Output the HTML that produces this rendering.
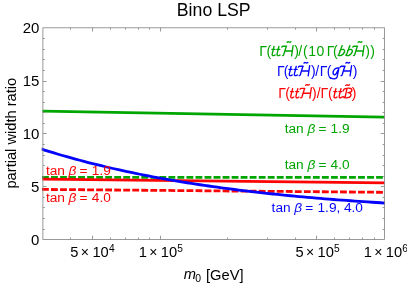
<!DOCTYPE html>
<html><head><meta charset="utf-8"><style>
html,body{margin:0;padding:0;background:#fff;}
svg{display:block}
text{font-family:"Liberation Sans",sans-serif;}
</style></head><body>
<svg width="407" height="283" viewBox="0 0 407 283" style="will-change:transform">
<rect width="407" height="283" fill="#fff"/>
<defs><clipPath id="c"><rect x="41.7" y="27.8" width="343.8" height="211.6"/></clipPath></defs>
<g clip-path="url(#c)" fill="none" stroke-width="2.8">
<path d="M42.5 111.2 L384.5 117.2" stroke="#00a600"/>
<path d="M42 177.4 L384.5 177.4" stroke="#00a600" stroke-dasharray="6.85 2.18"/>
<path d="M42.5 179.2 L384.5 182.9" stroke="#fd0404"/>
<path d="M42 189.4 L384.5 192.3" stroke="#fd0404" stroke-dasharray="6.85 2.18"/>
<path d="M41.0 148.93 L45.3 150.30 L49.6 151.64 L53.9 152.95 L58.2 154.23 L62.5 155.49 L66.8 156.72 L71.1 157.93 L75.4 159.11 L79.7 160.27 L84.0 161.41 L88.3 162.52 L92.6 163.61 L96.9 164.68 L101.2 165.73 L105.5 166.76 L109.8 167.76 L114.1 168.75 L118.4 169.71 L122.7 170.66 L127.0 171.59 L131.3 172.49 L135.6 173.38 L139.9 174.25 L144.2 175.11 L148.5 175.94 L152.8 176.76 L157.1 177.57 L161.4 178.35 L165.7 179.12 L170.0 179.88 L174.3 180.62 L178.6 181.34 L182.9 182.05 L187.2 182.75 L191.5 183.43 L195.8 184.09 L200.1 184.75 L204.4 185.39 L208.7 186.01 L213.0 186.63 L217.3 187.23 L221.6 187.82 L225.9 188.39 L230.2 188.96 L234.5 189.51 L238.8 190.05 L243.1 190.58 L247.4 191.10 L251.7 191.61 L256.0 192.11 L260.3 192.60 L264.6 193.07 L268.9 193.54 L273.2 194.00 L277.5 194.45 L281.8 194.89 L286.1 195.32 L290.4 195.74 L294.7 196.15 L299.0 196.55 L303.3 196.95 L307.6 197.33 L311.9 197.71 L316.2 198.08 L320.5 198.44 L324.8 198.80 L329.1 199.14 L333.4 199.48 L337.7 199.82 L342.0 200.14 L346.3 200.46 L350.6 200.77 L354.9 201.08 L359.2 201.38 L363.5 201.67 L367.8 201.95 L372.1 202.23 L376.4 202.51 L380.7 202.77 L385.0 203.03" stroke="#0404fc"/>
</g>
<path d="M70.50 239.4v-1.9M70.50 27.8v1.9M92.50 239.4v-3.7M92.50 27.8v3.7M110.50 239.4v-1.9M110.50 27.8v1.9M125.50 239.4v-1.9M125.50 27.8v1.9M138.50 239.4v-1.9M138.50 27.8v1.9M149.50 239.4v-1.9M149.50 27.8v1.9M160.50 239.4v-3.7M160.50 27.8v3.7M227.50 239.4v-1.9M227.50 27.8v1.9M267.50 239.4v-1.9M267.50 27.8v1.9M295.50 239.4v-1.9M295.50 27.8v1.9M316.50 239.4v-3.7M316.50 27.8v3.7M334.50 239.4v-1.9M334.50 27.8v1.9M349.50 239.4v-1.9M349.50 27.8v1.9M362.50 239.4v-1.9M362.50 27.8v1.9M374.50 239.4v-1.9M374.50 27.8v1.9M42.9 229.50h1.9M384.45 229.50h-1.9M42.9 218.50h1.9M384.45 218.50h-1.9M42.9 207.50h1.9M384.45 207.50h-1.9M42.9 197.50h1.9M384.45 197.50h-1.9M42.9 186.50h3.7M384.45 186.50h-3.7M42.9 176.50h1.9M384.45 176.50h-1.9M42.9 165.50h1.9M384.45 165.50h-1.9M42.9 155.50h1.9M384.45 155.50h-1.9M42.9 144.50h1.9M384.45 144.50h-1.9M42.9 133.50h3.7M384.45 133.50h-3.7M42.9 123.50h1.9M384.45 123.50h-1.9M42.9 112.50h1.9M384.45 112.50h-1.9M42.9 102.50h1.9M384.45 102.50h-1.9M42.9 91.50h1.9M384.45 91.50h-1.9M42.9 81.50h3.7M384.45 81.50h-3.7M42.9 70.50h1.9M384.45 70.50h-1.9M42.9 59.50h1.9M384.45 59.50h-1.9M42.9 49.50h1.9M384.45 49.50h-1.9M42.9 38.50h1.9M384.45 38.50h-1.9" stroke="#808080" stroke-width="0.8" fill="none"/>
<rect x="42.9" y="27.8" width="341.55" height="211.60" fill="none" stroke="#808080" stroke-width="0.8"/>
<text x="213.7" y="15.6" font-size="17.7" text-anchor="middle" fill="#000">Bino LSP</text>
<g font-size="15" fill="#000" text-anchor="end">
<text x="39.4" y="33.4">20</text>
<text x="39.4" y="86.2">15</text>
<text x="39.4" y="139">10</text>
<text x="39.4" y="191.8">5</text>
<text x="39.4" y="244.6">0</text>
</g>
<g font-size="14.7" fill="#000">
<text x="70.3" y="256.7">5</text><text x="80.8" y="256.9" font-size="14">×</text><text x="92.39999999999999" y="256.7">10</text><text x="108.89999999999999" y="251.79999999999998" font-size="10.2">4</text>
<text x="138.7" y="256.7">1</text><text x="149.2" y="256.9" font-size="14">×</text><text x="160.8" y="256.7">10</text><text x="177.3" y="251.79999999999998" font-size="10.2">5</text>
<text x="295.5" y="256.7">5</text><text x="306.0" y="256.9" font-size="14">×</text><text x="317.6" y="256.7">10</text><text x="334.1" y="251.79999999999998" font-size="10.2">5</text>
<text x="363.7" y="256.7">1</text><text x="374.2" y="256.9" font-size="14">×</text><text x="385.8" y="256.7">10</text><text x="402.3" y="251.79999999999998" font-size="10.2">6</text>
</g>
<g font-size="14.7" fill="#000">
<text x="183.8" y="279.4" font-style="italic">m</text><text x="195.3" y="282" font-size="10.4">0</text><text x="206" y="280.1">[GeV]</text>
</g>
<text transform="translate(15.5 133.2) rotate(-90)" font-size="14.65" text-anchor="middle">partial width ratio</text>
<text x="259.3" y="55.7" font-size="14" fill="#00a600">Γ</text>
<text x="266.5" y="55.7" font-size="14" fill="#00a600">(</text>
<path transform="translate(271.0 55.7)" d="M3.0-9.2L1.2-1.9Q0.8 0.2 2.8-0.1Q3.6-0.3 4.1-0.8M0.9-6.3H3.9" fill="none" stroke="#00a600" stroke-width="1.35" stroke-linecap="round" stroke-linejoin="round"/>
<path transform="translate(275.9 55.7)" d="M3.0-9.2L1.2-1.9Q0.8 0.2 2.8-0.1Q3.6-0.3 4.1-0.8M0.9-6.3H3.9" fill="none" stroke="#00a600" stroke-width="1.35" stroke-linecap="round" stroke-linejoin="round"/>
<path transform="translate(281.6 55.7)" d="M0.2-8.6Q0.3-9.5 1.4-9.5H5M4.7-9.4L2.1-0.9Q1.8 0 0.9-0.1M3.6-4.7H10.4M11.5-10.1L10 0.1M5.5-13.4q1-0.9 1.9-0.3t1.9-0.3" fill="none" stroke="#00a600" stroke-width="1.35" stroke-linecap="round" stroke-linejoin="round"/>
<text x="294.2" y="55.7" font-size="14" fill="#00a600">)</text>
<text x="298.3" y="55.7" font-size="14" fill="#00a600">/</text>
<text x="302.9" y="55.7" font-size="14" fill="#00a600">(</text>
<text x="308.2" y="55.7" font-size="14" fill="#00a600">1</text>
<text x="316.4" y="55.7" font-size="14" fill="#00a600">0</text>
<text x="326.8" y="55.7" font-size="14" fill="#00a600">Γ</text>
<text x="333.0" y="55.7" font-size="14" fill="#00a600">(</text>
<path transform="translate(337.9 55.7)" d="M4.3-10.1L0.6-0.3M2-4.9Q3.8-6.8 5.8-6.2Q7.4-5.4 6.4-3.3Q5.2-0.8 3-0.2Q1.3 0.2 0.2-0.6" fill="none" stroke="#00a600" stroke-width="1.35" stroke-linecap="round" stroke-linejoin="round"/>
<path transform="translate(345.6 55.7)" d="M4.3-10.1L0.6-0.3M2-4.9Q3.8-6.8 5.8-6.2Q7.4-5.4 6.4-3.3Q5.2-0.8 3-0.2Q1.3 0.2 0.2-0.6" fill="none" stroke="#00a600" stroke-width="1.35" stroke-linecap="round" stroke-linejoin="round"/>
<path transform="translate(352.6 55.7)" d="M0.2-8.6Q0.3-9.5 1.4-9.5H5M4.7-9.4L2.1-0.9Q1.8 0 0.9-0.1M3.6-4.7H10.4M11.5-10.1L10 0.1M5.5-13.4q1-0.9 1.9-0.3t1.9-0.3" fill="none" stroke="#00a600" stroke-width="1.35" stroke-linecap="round" stroke-linejoin="round"/>
<text x="365.2" y="55.7" font-size="14" fill="#00a600">)</text>
<text x="370.3" y="55.7" font-size="14" fill="#00a600">)</text>
<text x="276.9" y="75.7" font-size="14" fill="#0404fc">Γ</text>
<text x="283.8" y="75.7" font-size="14" fill="#0404fc">(</text>
<path transform="translate(288.1 75.7)" d="M3.0-9.2L1.2-1.9Q0.8 0.2 2.8-0.1Q3.6-0.3 4.1-0.8M0.9-6.3H3.9" fill="none" stroke="#0404fc" stroke-width="1.35" stroke-linecap="round" stroke-linejoin="round"/>
<path transform="translate(293.2 75.7)" d="M3.0-9.2L1.2-1.9Q0.8 0.2 2.8-0.1Q3.6-0.3 4.1-0.8M0.9-6.3H3.9" fill="none" stroke="#0404fc" stroke-width="1.35" stroke-linecap="round" stroke-linejoin="round"/>
<path transform="translate(298.2 75.7)" d="M0.2-8.6Q0.3-9.5 1.4-9.5H5M4.7-9.4L2.1-0.9Q1.8 0 0.9-0.1M3.6-4.7H10.4M11.5-10.1L10 0.1M5.8-12.7q1-0.9 1.9-0.3t1.9-0.3" fill="none" stroke="#0404fc" stroke-width="1.35" stroke-linecap="round" stroke-linejoin="round"/>
<text x="311" y="75.7" font-size="14" fill="#0404fc">)</text>
<text x="315.2" y="75.7" font-size="14" fill="#0404fc">/</text>
<text x="319.7" y="75.7" font-size="14" fill="#0404fc">Γ</text>
<text x="326.8" y="75.7" font-size="14" fill="#0404fc">(</text>
<path transform="translate(333.0 75.7)" d="M5.3-7.6Q2.4-8.2 0.6-5.2Q-0.8-2.2 1.2-0.9Q3-0.4 4.9-5.4M6-8.1L4.2 1Q3.6 3.4 0.6 3.2Q-1.6 3-2.5 2.1" fill="none" stroke="#0404fc" stroke-width="1.35" stroke-linecap="round" stroke-linejoin="round"/>
<path transform="translate(340.1 75.7)" d="M0.2-8.6Q0.3-9.5 1.4-9.5H5M4.7-9.4L2.1-0.9Q1.8 0 0.9-0.1M3.6-4.7H10.4M11.5-10.1L10 0.1M5.8-12.7q1-0.9 1.9-0.3t1.9-0.3" fill="none" stroke="#0404fc" stroke-width="1.35" stroke-linecap="round" stroke-linejoin="round"/>
<text x="352.8" y="75.7" font-size="14" fill="#0404fc">)</text>
<text x="278.3" y="97.9" font-size="14" fill="#fd0404">Γ</text>
<text x="285.2" y="97.9" font-size="14" fill="#fd0404">(</text>
<path transform="translate(289.6 97.9)" d="M3.0-9.2L1.2-1.9Q0.8 0.2 2.8-0.1Q3.6-0.3 4.1-0.8M0.9-6.3H3.9" fill="none" stroke="#fd0404" stroke-width="1.35" stroke-linecap="round" stroke-linejoin="round"/>
<path transform="translate(294.8 97.9)" d="M3.0-9.2L1.2-1.9Q0.8 0.2 2.8-0.1Q3.6-0.3 4.1-0.8M0.9-6.3H3.9" fill="none" stroke="#fd0404" stroke-width="1.35" stroke-linecap="round" stroke-linejoin="round"/>
<path transform="translate(299.85 97.9)" d="M0.2-8.6Q0.3-9.5 1.4-9.5H5M4.7-9.4L2.1-0.9Q1.8 0 0.9-0.1M3.6-4.7H10.4M11.5-10.1L10 0.1M5.8-12.7q1-0.9 1.9-0.3t1.9-0.3" fill="none" stroke="#fd0404" stroke-width="1.35" stroke-linecap="round" stroke-linejoin="round"/>
<text x="312.1" y="97.9" font-size="14" fill="#fd0404">)</text>
<text x="316.7" y="97.9" font-size="14" fill="#fd0404">/</text>
<text x="320.6" y="97.9" font-size="14" fill="#fd0404">Γ</text>
<text x="328" y="97.9" font-size="14" fill="#fd0404">(</text>
<path transform="translate(332.9 97.9)" d="M3.0-9.2L1.2-1.9Q0.8 0.2 2.8-0.1Q3.6-0.3 4.1-0.8M0.9-6.3H3.9" fill="none" stroke="#fd0404" stroke-width="1.35" stroke-linecap="round" stroke-linejoin="round"/>
<path transform="translate(338.0 97.9)" d="M3.0-9.2L1.2-1.9Q0.8 0.2 2.8-0.1Q3.6-0.3 4.1-0.8M0.9-6.3H3.9" fill="none" stroke="#fd0404" stroke-width="1.35" stroke-linecap="round" stroke-linejoin="round"/>
<path transform="translate(342.8 97.9)" d="M0.4-7.1Q1-9.6 3.8-9.6Q9.4-10.2 9.1-7.6Q8.6-5.4 5.2-5.2Q8.6-4.8 8.2-2.8Q7.6-0.1 3.4-0.1Q1-0.1 0.1-1.4M4.2-9.4L2.2-0.3M2.9-12.5q1-0.9 1.9-0.3t1.9-0.3" fill="none" stroke="#fd0404" stroke-width="1.35" stroke-linecap="round" stroke-linejoin="round"/>
<text x="351.8" y="97.9" font-size="14" fill="#fd0404">)</text>
<g font-size="13.7" fill="#00a600"><text x="284.7" y="132.6">tan</text><text x="307.4" y="132.6" font-style="italic">β</text><text x="318.4" y="132.6">=</text><text x="330.6" y="132.6">1.9</text></g>
<g font-size="13.7" fill="#00a600"><text x="284.7" y="169.3">tan</text><text x="307.4" y="169.3" font-style="italic">β</text><text x="318.4" y="169.3">=</text><text x="330.6" y="169.3">4.0</text></g>
<g font-size="13.7" fill="#0404fc"><text x="271.59999999999997" y="212">tan</text><text x="294.29999999999995" y="212" font-style="italic">β</text><text x="305.29999999999995" y="212">=</text><text x="317.5" y="212">1.9,</text><text x="343.9" y="212">4.0</text></g>
<g font-size="13.7" fill="#fd0404"><text x="45.900000000000006" y="175">tan</text><text x="68.6" y="175" font-style="italic">β</text><text x="79.6" y="175">=</text><text x="91.80000000000001" y="175">1.9</text></g>
<g font-size="13.7" fill="#fd0404"><text x="45.900000000000006" y="201.6">tan</text><text x="68.6" y="201.6" font-style="italic">β</text><text x="79.6" y="201.6">=</text><text x="91.80000000000001" y="201.6">4.0</text></g>
</svg>
</body></html>
